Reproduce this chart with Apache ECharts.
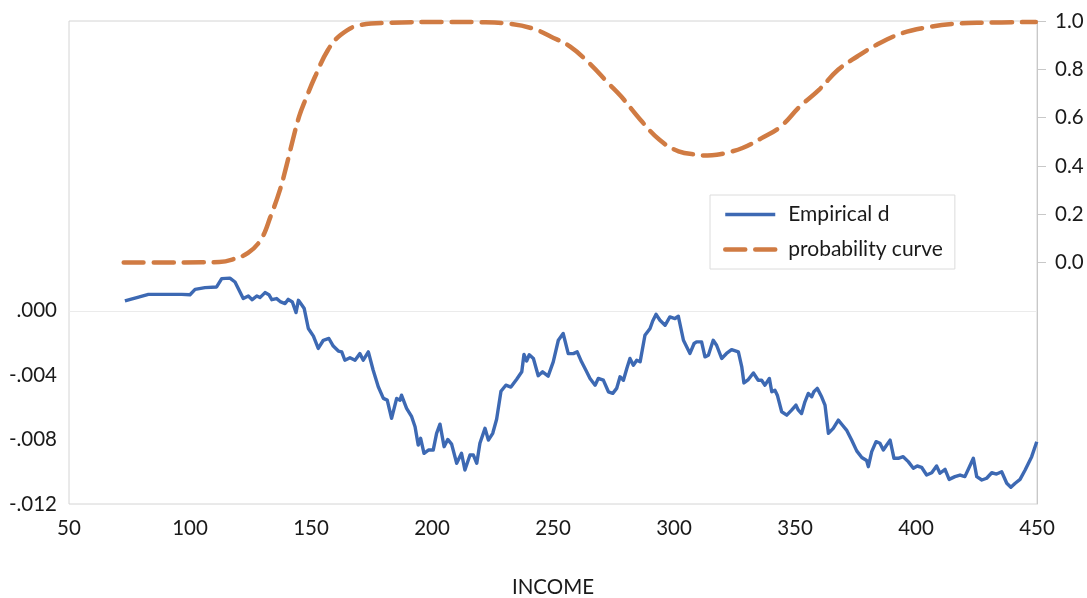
<!DOCTYPE html>
<html>
<head>
<meta charset="utf-8">
<script src="https://cdn.jsdelivr.net/npm/echarts@6/dist/echarts.min.js"></script>
<style>
  html, body { margin: 0; padding: 0; background: #ffffff; }
  #chart { width: 1087px; height: 598px; }
</style>
</head>
<body>
<div id="chart"></div>
<script>
// Empirical d: income vs. value (left axis)
const empIncome = [73.1, 78.0, 82.8, 96.6, 100.0, 102.1, 106.2, 111.0, 113.1, 116.5, 118.6, 122.0, 124.1, 125.7, 127.6, 128.9,
  131.0, 132.6, 133.8, 135.8, 137.5, 139.3, 140.6, 142.3, 143.8, 144.8, 146.0, 147.2, 148.9, 151.0, 153.0, 155.1,
  157.4, 159.2, 161.3, 162.7, 164.0, 166.1, 168.2, 170.2, 171.6, 173.7, 175.7, 177.8, 179.9, 181.5, 183.3, 185.4,
  186.8, 187.4, 189.5, 191.6, 193.0, 194.3, 195.3, 196.7, 198.5, 200.5, 201.9, 203.3, 205.0, 206.5, 208.1, 210.2,
  212.2, 213.6, 215.7, 217.1, 218.5, 219.8, 221.9, 223.3, 225.1, 226.7, 228.5, 230.5, 232.6, 235.0, 237.1, 238.0,
  239.1, 240.2, 241.9, 243.9, 245.7, 248.0, 250.1, 252.2, 254.2, 256.3, 258.4, 260.0, 261.8, 263.6, 265.3, 267.4,
  268.7, 270.8, 272.9, 274.7, 276.3, 277.7, 279.1, 280.5, 281.8, 283.2, 284.6, 286.0, 288.0, 290.1, 291.2, 292.6,
  294.2, 296.3, 298.3, 300.4, 301.8, 303.9, 306.6, 308.3, 309.3, 311.4, 312.8, 314.2, 316.2, 317.6, 319.7, 321.7,
  323.8, 326.6, 328.0, 328.9, 330.7, 332.8, 334.8, 336.2, 337.6, 339.4, 340.4, 341.7, 342.7, 344.5, 346.6, 348.6,
  350.4, 351.4, 352.7, 354.1, 355.5, 356.9, 357.8, 359.2, 361.0, 362.4, 363.8, 365.8, 367.9, 369.3, 371.3, 373.4,
  375.5, 377.6, 379.6, 380.3, 381.7, 383.5, 385.1, 386.5, 387.9, 389.3, 390.9, 392.7, 394.7, 396.8, 398.9, 400.5,
  402.3, 404.4, 406.5, 408.5, 409.9, 412.0, 413.7, 416.1, 418.2, 420.2, 422.0, 423.7, 425.1, 427.2, 429.2, 431.3,
  433.3, 435.4, 437.5, 439.2, 441.0, 443.0, 445.1, 447.8, 449.9];
const empValue = [0.00061, 0.00082, 0.00102, 0.00102, 0.00100, 0.00133, 0.00144, 0.00148, 0.00200, 0.00203, 0.00179, 0.00076, 0.00092, 0.00069, 0.00092, 0.00082,
  0.00113, 0.00100, 0.00069, 0.00076, 0.00055, 0.00045, 0.00071, 0.00055, -0.00011, 0.00065, 0.00040, 0.00014, -0.00110, -0.00157, -0.00234, -0.00183,
  -0.00172, -0.00219, -0.00250, -0.00255, -0.00307, -0.00291, -0.00307, -0.00266, -0.00307, -0.00255, -0.00369, -0.00472, -0.00544, -0.00555, -0.00668, -0.00544,
  -0.00555, -0.00524, -0.00606, -0.00658, -0.00720, -0.00834, -0.00792, -0.00885, -0.00865, -0.00865, -0.00761, -0.00704, -0.00844, -0.00799, -0.00828, -0.00947,
  -0.00885, -0.00989, -0.00896, -0.00896, -0.00947, -0.00823, -0.00730, -0.00803, -0.00761, -0.00674, -0.00500, -0.00462, -0.00474, -0.00425, -0.00379, -0.00271,
  -0.00312, -0.00273, -0.00296, -0.00403, -0.00379, -0.00406, -0.00317, -0.00183, -0.00141, -0.00266, -0.00266, -0.00255, -0.00317, -0.00369, -0.00420, -0.00462,
  -0.00420, -0.00431, -0.00503, -0.00513, -0.00482, -0.00410, -0.00431, -0.00358, -0.00296, -0.00338, -0.00307, -0.00317, -0.00152, -0.00110, -0.00063, -0.00022,
  -0.00059, -0.00090, -0.00038, -0.00048, -0.00034, -0.00183, -0.00265, -0.00203, -0.00193, -0.00193, -0.00286, -0.00276, -0.00183, -0.00214, -0.00296, -0.00265,
  -0.00241, -0.00255, -0.00348, -0.00448, -0.00427, -0.00386, -0.00431, -0.00431, -0.00462, -0.00420, -0.00503, -0.00493, -0.00524, -0.00627, -0.00648, -0.00617,
  -0.00586, -0.00617, -0.00638, -0.00565, -0.00513, -0.00534, -0.00503, -0.00482, -0.00534, -0.00586, -0.00761, -0.00730, -0.00679, -0.00705, -0.00741, -0.00803,
  -0.00870, -0.00911, -0.00930, -0.00968, -0.00875, -0.00813, -0.00823, -0.00865, -0.00834, -0.00803, -0.00916, -0.00916, -0.00906, -0.00937, -0.00978, -0.00964,
  -0.00972, -0.01020, -0.01006, -0.00964, -0.01009, -0.00985, -0.01047, -0.01030, -0.01020, -0.01030, -0.00972, -0.00916, -0.01030, -0.01051, -0.01040, -0.01006,
  -0.01014, -0.01000, -0.01071, -0.01096, -0.01071, -0.01047, -0.00989, -0.00906, -0.00813];

// Probability curve: income vs. probability (right axis)
const probIncome = [72.6, 90.0, 105.0, 112.1, 117.4, 124.0, 129.3, 133.3, 137.2, 139.8, 142.5, 145.1, 147.7, 151.7, 157.0, 162.2,
  170.1, 183.3, 204.4, 220.0, 230.7, 241.3, 249.2, 257.1, 265.0, 272.9, 278.2, 286.1, 294.0, 301.9, 309.8, 313.8,
  317.7, 322.0, 328.3, 336.2, 344.1, 352.0, 359.9, 367.8, 375.7, 383.6, 394.1, 404.7, 415.2, 428.4, 449.5];
const probValue = [0.000, 0.000, 0.001, 0.002, 0.012, 0.040, 0.095, 0.191, 0.302, 0.398, 0.508, 0.605, 0.674, 0.770, 0.880, 0.942,
  0.983, 0.993, 0.996, 0.995, 0.990, 0.970, 0.935, 0.894, 0.825, 0.742, 0.687, 0.591, 0.508, 0.460, 0.446, 0.443,
  0.446, 0.455, 0.474, 0.515, 0.563, 0.646, 0.715, 0.798, 0.853, 0.901, 0.949, 0.974, 0.988, 0.993, 0.996];

// Axis tick labels
const xTicks = [50, 100, 150, 200, 250, 300, 350, 400, 450];
const leftTicks = [-0.012, -0.008, -0.004, 0];
const rightTicks = [0, 0.2, 0.4, 0.6, 0.8, 1.0];

const FONT = 'Lato, "Open Sans", sans-serif';
const TEXT = '#1a1a1a';
const BLUE = '#3d69b3';
const ORANGE = '#d07b43';
const AXIS_FS = 20.5;

const BLUE_STYLE = { color: BLUE, width: 3.4, type: 'solid' };
const ORANGE_STYLE = { color: ORANGE, width: 4.5, type: [20, 10] };

const pairs = (xs, ys) => xs.map((x, i) => [x, ys[i]]);

const chart = echarts.init(document.getElementById('chart'), null, { renderer: 'canvas' });

chart.setOption({
  animation: false,
  backgroundColor: '#ffffff',
  textStyle: { fontFamily: FONT },
  grid: {
    left: 69, right: 50, top: 21, bottom: 94,
    outerBoundsMode: 'none',
    show: true, borderColor: '#d4d4d4', borderWidth: 1, backgroundColor: 'transparent'
  },
  legend: {
    orient: 'vertical',
    left: 710, top: 195,
    padding: [8, 12, 8, 13],
    itemGap: 12,
    itemWidth: 50, itemHeight: 14,
    borderColor: '#dcdcdc', borderWidth: 1, backgroundColor: '#ffffff',
    itemStyle: { opacity: 0 },
    textStyle: { fontFamily: FONT, fontSize: 21, color: TEXT, lineHeight: 23, padding: [0, 0, 0, 8] },
    data: [
      { name: 'Empirical d', lineStyle: BLUE_STYLE, itemStyle: { opacity: 0 } },
      { name: 'probability curve', lineStyle: ORANGE_STYLE, itemStyle: { opacity: 0 } }
    ]
  },
  xAxis: {
    type: 'value',
    min: xTicks[0], max: xTicks[xTicks.length - 1], interval: 50,
    name: 'INCOME', nameLocation: 'middle', nameGap: 73,
    nameTextStyle: { fontFamily: FONT, fontSize: AXIS_FS, color: TEXT },
    axisLine: { show: false }, axisTick: { show: false }, splitLine: { show: false },
    axisLabel: { fontFamily: FONT, fontSize: AXIS_FS, color: TEXT, margin: 14,
      customValues: xTicks, formatter: v => String(v) }
  },
  yAxis: [
    {
      type: 'value', position: 'left',
      min: -0.012, max: 0.018, interval: 0.004,
      axisLine: { show: false }, axisTick: { show: false }, splitLine: { show: false },
      axisLabel: {
        fontFamily: FONT, fontSize: AXIS_FS, color: TEXT, margin: 12,
        customValues: leftTicks,
        formatter: v => {
          if (Math.abs(v) < 1e-9) return '.000';
          const s = Math.abs(v).toFixed(3).replace(/^0/, '');
          return (v < 0 ? '-' : '') + s;
        }
      }
    },
    {
      type: 'value', position: 'right',
      min: -1, max: 1, interval: 0.2,
      axisLine: { show: true, lineStyle: { color: '#c8c8c8', width: 1 } },
      axisTick: { show: true, inside: false, length: 9, customValues: rightTicks,
        lineStyle: { color: '#c8c8c8', width: 1 } },
      splitLine: { show: false },
      axisLabel: { fontFamily: FONT, fontSize: AXIS_FS, color: TEXT, margin: 18,
        customValues: rightTicks, formatter: v => v.toFixed(1) }
    }
  ],
  series: [
    {
      name: 'Empirical d',
      type: 'line',
      yAxisIndex: 0,
      data: pairs(empIncome, empValue),
      symbol: 'none',
      lineStyle: { color: BLUE, width: 3.4, join: 'round' },
      itemStyle: { color: BLUE },
      z: 3,
      markLine: {
        silent: true, symbol: 'none', animation: false,
        label: { show: false },
        lineStyle: { color: '#ebebeb', width: 1, type: 'solid' },
        data: [{ yAxis: 0 }],
        z: 1
      }
    },
    {
      name: 'probability curve',
      type: 'line',
      yAxisIndex: 1,
      data: pairs(probIncome, probValue),
      smooth: 0.4,
      symbol: 'none',
      lineStyle: { color: ORANGE, width: 4.5, type: [20, 10], cap: 'round' },
      itemStyle: { color: ORANGE },
      z: 2
    }
  ]
});
</script>
</body>
</html>
